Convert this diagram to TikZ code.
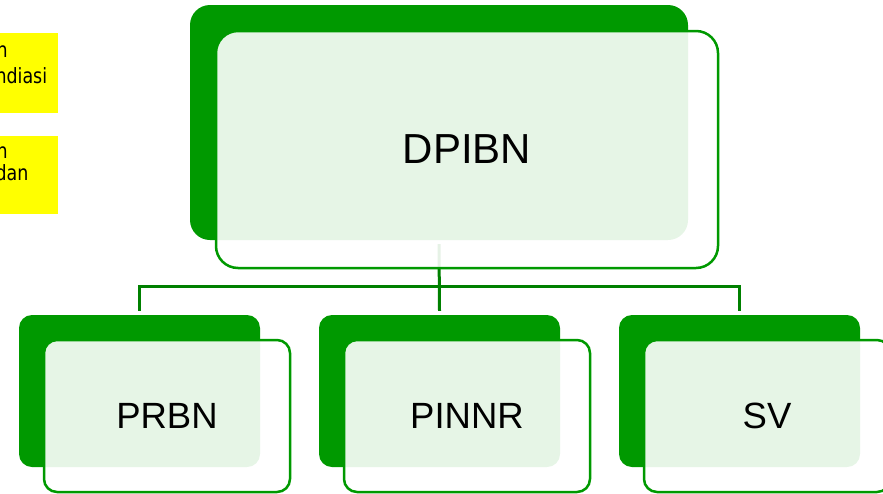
\documentclass[tikz,border=0pt]{standalone}
\usepackage{fontspec}
\setmainfont{Liberation Sans}
\newfontfamily\yfont[FakeStretch=0.83]{DejaVu Sans}
\definecolor{gmain}{RGB}{0,153,0}
\definecolor{gline}{RGB}{0,128,0}
\definecolor{ybg}{RGB}{255,255,0}
\begin{document}
\begin{tikzpicture}[x=1pt,y=-1pt,
  backbox/.style={draw=none,fill=gmain,rounded corners=#1,inner sep=0pt},
  frontbox/.style={draw=gmain,line width=2.5pt,fill=white,fill opacity=0.9,text opacity=1,rounded corners=#1,inner sep=0pt},
  biglabel/.style={font=\fontsize{42}{48}\selectfont},
  smalllabel/.style={font=\fontsize{36.5}{42}\selectfont},
  conn/.style={draw=gline,line width=3pt},
  ytext/.style={anchor=base west,inner sep=0pt,font=\yfont\fontsize{21}{26}\selectfont}
]
\useasboundingbox (0,0) rectangle (883,493);
\begin{scope}
\clip (0,0) rectangle (883,493);
% yellow side boxes
\fill[ybg] (0,33) rectangle (58,113);
\fill[ybg] (0,136) rectangle (58,214);
\node[ytext] (y1a) at (-3.5,57) {n};
\node[ytext] (y1b) at (-4.6,83) {ndiasi};
\node[ytext] (y2a) at (-3.5,158) {n};
\node[ytext] (y2b) at (-4.6,180) {dan};
% back boxes
\node[backbox=20pt,minimum width=498pt,minimum height=235pt] (dpibnB) at (439,122.5) {};
\node[backbox=13pt,minimum width=241pt,minimum height=152pt] (prbnB) at (139.5,391) {};
\node[backbox=13pt,minimum width=241pt,minimum height=152pt] (pinnrB) at (439.5,391) {};
\node[backbox=13pt,minimum width=241pt,minimum height=152pt] (svB) at (739.5,391) {};
% connectors
\coordinate (bus) at (439.5,286.5);
\draw[conn] ([yshift=-4pt]dpibnB.south) -- ([yshift=4pt]pinnrB.north);
\draw[conn] ([yshift=4pt]prbnB.north) |- (bus) -| ([yshift=4pt]svB.north);
% front boxes
\node[frontbox=22pt,minimum width=502pt,minimum height=237pt,biglabel] (dpibn) at (467,149.5) {DPIBN};
\node[frontbox=13pt,minimum width=246pt,minimum height=152pt,smalllabel] (prbn) at (167,416) {PRBN};
\node[frontbox=13pt,minimum width=246pt,minimum height=152pt,smalllabel] (pinnr) at (467,416) {PINNR};
\node[frontbox=13pt,minimum width=246pt,minimum height=152pt,smalllabel] (sv) at (767,416) {SV};
\end{scope}
\end{tikzpicture}
\end{document}
